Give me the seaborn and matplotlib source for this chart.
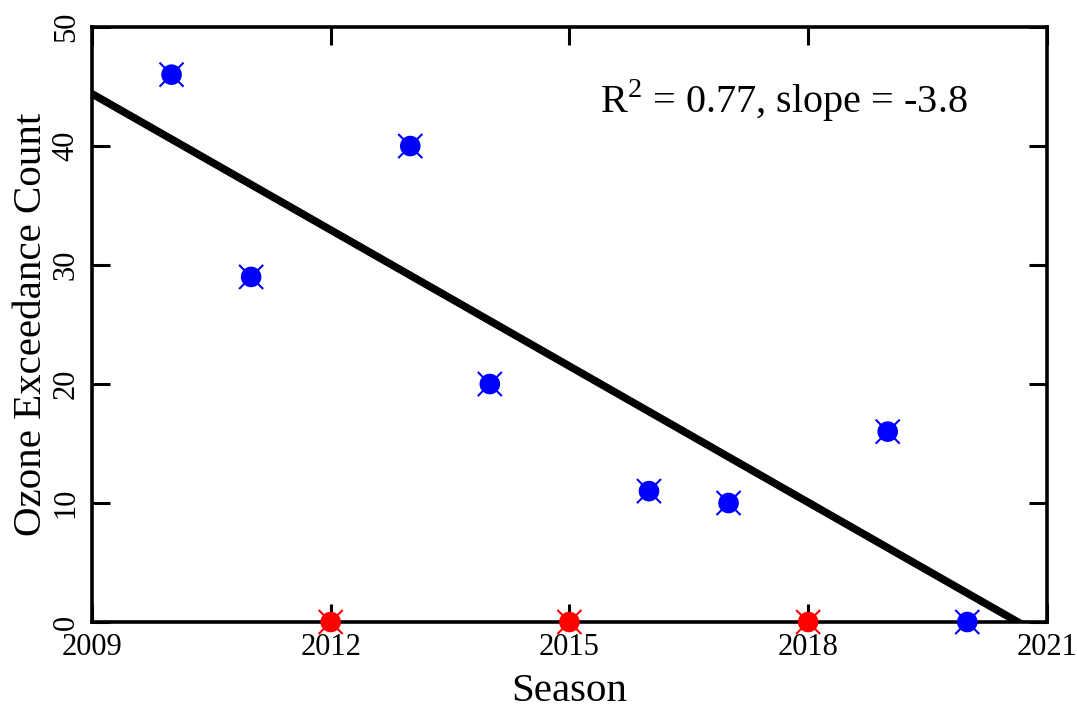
import numpy as np
import pandas as pd
import matplotlib
matplotlib.use("Agg")
import matplotlib.pyplot as plt
import seaborn as sns

sns.set_style("ticks", {"axes.edgecolor": "black", "text.color": "black",
                        "axes.labelcolor": "black", "xtick.color": "black",
                        "ytick.color": "black"})
plt.rcParams["font.family"] = ["Liberation Serif", "DejaVu Serif"]
plt.rcParams["mathtext.fontset"] = "custom"
plt.rcParams["mathtext.rm"] = "Liberation Serif"

# data
seasons = [2010, 2011, 2012, 2013, 2014, 2015, 2016, 2017, 2018, 2019, 2020]
counts = [46, 29, 0, 40, 20, 0, 11, 10, 0, 16, 0]
flag = ["ok", "ok", "missing", "ok", "ok", "missing", "ok", "ok", "missing", "ok", "ok"]

df = pd.DataFrame({"season": seasons, "count": counts, "flag": flag})
palette = {"ok": "#0000ff", "missing": "#ff0000"}

fig = plt.figure(figsize=(10.77, 7.12), dpi=100)
ax = fig.add_axes([0.0854, 0.1264, 0.8866, 0.8356])
ax.set_xlim(2009, 2021)
ax.set_ylim(0, 50)

# regression fit on the valid seasons only
fit = df[df["flag"] == "ok"]
sns.regplot(data=fit, x="season", y="count", scatter=False, ci=None, truncate=False,
            color="black", line_kws={"linewidth": 5.5, "solid_capstyle": "butt"}, ax=ax)

sns.scatterplot(data=df, x="season", y="count", hue="flag", palette=palette, marker="o",
                s=220, edgecolor="none", legend=False, ax=ax, clip_on=False, zorder=4)
sns.scatterplot(data=df, x="season", y="count", hue="flag", palette=palette, marker="x",
                s=300, linewidth=1.5, legend=False, ax=ax, clip_on=False, zorder=4)

ax.set_xlim(2009, 2021)
ax.set_ylim(0, 50)
ax.set_xticks([2009, 2012, 2015, 2018, 2021])
ax.set_yticks([0, 10, 20, 30, 40, 50])
ax.tick_params(direction="in", length=13, width=2.2, top=True, right=True, labelsize=22, pad=8)
for lbl in ax.get_yticklabels():
    lbl.set_rotation(90)
    lbl.set_va("center")
for s in ax.spines.values():
    s.set_linewidth(2.6)
    s.set_color("black")

ax.set_xlabel("Season", fontsize=29.5, labelpad=8)
ax.set_ylabel("Ozone Exceedance Count", fontsize=29.5, labelpad=1)
ax.text(0.917, 0.877, r"R$^2$ = 0.77, slope = -3.8", transform=ax.transAxes,
        ha="right", va="center", fontsize=29)

fig.savefig("out.png", dpi=100)
